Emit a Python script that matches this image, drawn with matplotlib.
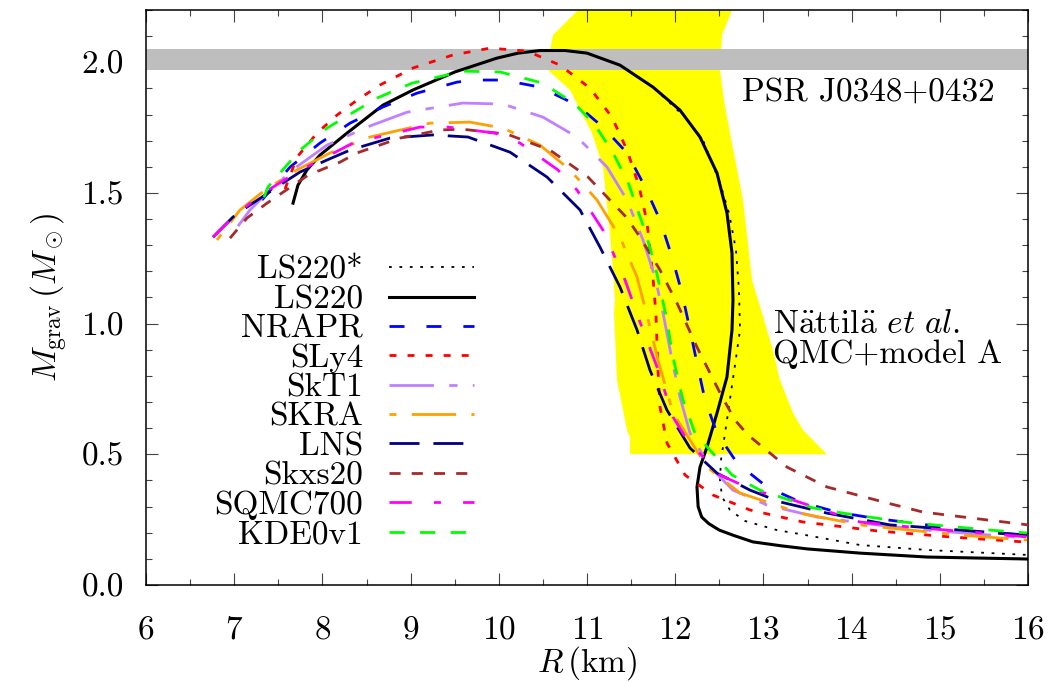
import matplotlib
matplotlib.use("Agg")
import matplotlib.pyplot as plt
from matplotlib.ticker import MultipleLocator

plt.rcParams['font.family'] = ['cmr10', 'DejaVu Serif']
plt.rcParams['mathtext.fontset'] = 'cm'
plt.rcParams['axes.formatter.use_mathtext'] = True
plt.rcParams['axes.unicode_minus'] = False
plt.rcParams['lines.scale_dashes'] = False

# ---------------- data ----------------
ls220_r = [7.667, 7.723, 7.825, 7.973, 8.279, 8.687, 9.027, 9.503, 9.980, 10.22, 10.467, 10.75, 11.0,
           11.374, 11.748, 12.054, 12.281, 12.474, 12.587, 12.644, 12.655, 12.644, 12.587, 12.474, 12.361,
           12.281, 12.247, 12.26, 12.30, 12.38, 12.50, 12.66, 12.88, 13.2, 13.5, 14.095, 14.855, 15.99]
ls220_m = [1.461, 1.530, 1.588, 1.645, 1.729, 1.836, 1.894, 1.963, 2.016, 2.035, 2.045, 2.045, 2.035,
           1.989, 1.905, 1.817, 1.714, 1.576, 1.423, 1.270, 1.090, 0.976, 0.796, 0.658, 0.528,
           0.451, 0.375, 0.300, 0.260, 0.235, 0.210, 0.190, 0.165, 0.150, 0.138, 0.122, 0.107, 0.0995]

ls220s_r = [7.667, 7.723, 7.825, 7.973, 8.279, 8.687, 9.027, 9.503, 9.980, 10.22, 10.467, 10.75, 11.0,
            11.374, 11.748, 12.111, 12.315, 12.508, 12.610, 12.689, 12.723, 12.735, 12.678, 12.587, 12.519,
            12.508, 12.531, 12.621, 12.791, 13.154, 13.415, 14.095, 14.855, 16.0]
ls220s_m = [1.461, 1.530, 1.588, 1.645, 1.729, 1.836, 1.894, 1.963, 2.016, 2.035, 2.045, 2.045, 2.035,
            1.989, 1.905, 1.790, 1.702, 1.538, 1.423, 1.282, 1.129, 0.976, 0.842, 0.631, 0.478,
            0.402, 0.337, 0.287, 0.245, 0.210, 0.195, 0.153, 0.134, 0.115]

nrapr_r = [7.315, 7.633, 7.973, 8.313, 8.687, 9.073, 9.526, 9.707, 10.048, 10.467, 10.887, 11.181, 11.454,
           11.658, 11.828, 11.964, 12.077, 12.168, 12.247, 12.338, 12.474, 12.701, 13.041, 13.415, 13.834,
           14.243, 14.855, 15.422, 15.989]
nrapr_m = [1.473, 1.599, 1.691, 1.767, 1.829, 1.882, 1.924, 1.932, 1.932, 1.905, 1.836, 1.752, 1.653,
           1.523, 1.396, 1.255, 1.117, 0.976, 0.849, 0.708, 0.581, 0.467, 0.375, 0.318, 0.279,
           0.256, 0.230, 0.203, 0.191]

sly4_r = [7.576, 7.712, 7.939, 8.166, 8.392, 8.653, 9.027, 9.481, 9.900, 10.320, 10.694, 11.034, 11.283,
          11.454, 11.590, 11.680, 11.748, 11.782, 11.805, 11.828, 11.907, 12.111, 12.429, 12.848, 13.449,
          14.288, 15.116, 15.989]
sly4_m = [1.515, 1.637, 1.729, 1.798, 1.855, 1.913, 1.978, 2.028, 2.054, 2.043, 1.989, 1.901, 1.790,
          1.664, 1.526, 1.389, 1.178, 1.033, 0.822, 0.681, 0.543, 0.421, 0.344, 0.287, 0.241,
          0.207, 0.184, 0.164]

skt1_r = [7.043, 7.179, 7.406, 7.689, 8.052, 8.506, 8.959, 9.594, 10.048, 10.501, 10.887, 11.227, 11.454,
          11.635, 11.771, 11.862, 11.964, 12.054, 12.168, 12.395, 12.655, 13.041, 13.608, 14.288, 14.855,
          15.989]
skt1_m = [1.373, 1.435, 1.511, 1.595, 1.683, 1.752, 1.809, 1.844, 1.840, 1.790, 1.714, 1.599, 1.473,
          1.320, 1.178, 1.041, 0.861, 0.719, 0.581, 0.451, 0.363, 0.306, 0.260, 0.230, 0.210,
          0.180]

skra_r = [6.805, 7.066, 7.349, 7.712, 8.086, 8.540, 9.220, 9.673, 10.048, 10.467, 10.807, 11.113, 11.374,
          11.567, 11.680, 11.805, 11.975, 12.168, 12.361, 12.735, 13.415, 14.095, 14.549, 15.229, 15.989]
skra_m = [1.320, 1.435, 1.511, 1.588, 1.653, 1.714, 1.767, 1.771, 1.748, 1.683, 1.588, 1.473, 1.331,
          1.178, 1.033, 0.861, 0.658, 0.555, 0.451, 0.352, 0.275, 0.230, 0.214, 0.191, 0.172]

lns_r = [6.760, 6.986, 7.145, 7.553, 7.746, 8.052, 8.313, 8.766, 9.254, 9.651, 10.127, 10.546, 10.921,
         11.147, 11.374, 11.567, 11.714, 11.907, 12.168, 12.474, 12.848, 13.188, 13.721, 14.435, 14.923,
         15.989]
lns_m = [1.331, 1.408, 1.446, 1.538, 1.580, 1.626, 1.664, 1.710, 1.722, 1.714, 1.656, 1.561, 1.435,
         1.293, 1.140, 0.976, 0.822, 0.669, 0.524, 0.428, 0.363, 0.318, 0.275, 0.230, 0.218,
         0.191]

skxs20_r = [6.952, 7.145, 7.372, 7.837, 8.200, 8.392, 8.880, 9.333, 9.583, 10.093, 10.580, 11.011, 11.454,
            11.601, 11.828, 12.020, 12.247, 12.508, 12.678, 12.825, 13.268, 13.721, 14.401, 14.810, 15.535,
            16.0]
skxs20_m = [1.327, 1.404, 1.461, 1.568, 1.618, 1.653, 1.710, 1.741, 1.744, 1.725, 1.664, 1.561, 1.404,
            1.331, 1.205, 1.079, 0.910, 0.735, 0.631, 0.574, 0.451, 0.375, 0.314, 0.279, 0.249,
            0.230]

sqmc_r = [6.760, 6.896, 7.259, 7.712, 8.347, 9.107, 9.424, 9.957, 10.240, 10.671, 10.887, 11.181, 11.431,
          11.601, 11.794, 11.975, 12.134, 12.508, 12.882, 13.336, 14.095, 14.662, 15.989]
sqmc_m = [1.331, 1.377, 1.484, 1.580, 1.691, 1.752, 1.752, 1.729, 1.691, 1.588, 1.511, 1.358, 1.167,
          1.006, 0.834, 0.643, 0.555, 0.421, 0.363, 0.325, 0.241, 0.222, 0.184]

kde_r = [7.338, 7.383, 7.746, 8.052, 8.619, 9.016, 9.594, 10.014, 10.501, 10.864, 11.091, 11.295, 11.465,
         11.658, 11.771, 11.907, 11.964, 12.088, 12.224, 12.644, 12.961, 13.562, 13.902, 14.583, 15.569,
         15.989]
kde_m = [1.484, 1.523, 1.664, 1.748, 1.863, 1.920, 1.966, 1.963, 1.920, 1.840, 1.760, 1.653, 1.542,
         1.354, 1.224, 1.014, 0.888, 0.708, 0.581, 0.421, 0.363, 0.295, 0.275, 0.241, 0.210,
         0.199]

# Naettilae et al. constraint region (boundary)
band_r = [10.898, 10.615, 10.558, 10.558, 10.807, 11.057, 11.181, 11.261, 11.317, 11.306, 11.340, 11.454,
          11.488, 11.488, 13.721, 13.449, 13.336, 13.188, 13.098, 12.984, 12.871, 12.769, 12.621, 12.553,
          12.508, 12.531, 12.644]
band_m = [2.2, 2.104, 2.008, 1.970, 1.894, 1.729, 1.599, 1.347, 1.090, 1.041, 0.784, 0.593,
          0.566, 0.501, 0.5, 0.593, 0.658, 0.784, 0.910, 1.041, 1.167, 1.473, 1.729, 1.855,
          1.970, 2.104, 2.2]

psr_low, psr_high = 1.97, 2.05

labels = ["LS220*", "LS220", "NRAPR", "SLy4", "SkT1", "SKRA", "LNS", "Skxs20", "SQMC700", "KDE0v1"]

# ---------------- figure ----------------
fig = plt.figure(figsize=(10.5, 6.83), dpi=100)
ax = fig.add_axes([146/1050, 98/683, 882/1050, 575/683])

ax.fill(band_r, band_m, color='#ffff00', lw=0, zorder=1)
ax.axhspan(psr_low, psr_high, color='#bebebe', lw=0, zorder=2)

series = [
    (ls220s_r, ls220s_m, dict(color='black', lw=1.3, dashes=(2.0, 5.5))),
    (ls220_r, ls220_m, dict(color='black', lw=2.2)),
    (nrapr_r, nrapr_m, dict(color='#0000ff', lw=2.0, dashes=(10.8, 15.8))),
    (sly4_r, sly4_m, dict(color='#ff0000', lw=2.0, dashes=(5.0, 8.0))),
    (skt1_r, skt1_m, dict(color='#c080ff', lw=2.0, dashes=(32, 11, 6, 11))),
    (skra_r, skra_m, dict(color='#ffa000', lw=2.0, dashes=(5, 11, 32, 11))),
    (lns_r, lns_m, dict(color='#000080', lw=2.0, dashes=(21.6, 10))),
    (skxs20_r, skxs20_m, dict(color='#a52a2a', lw=2.0, dashes=(8, 8))),
    (sqmc_r, sqmc_m, dict(color='#ff00ff', lw=2.0, dashes=(16, 16, 5, 16))),
    (kde_r, kde_m, dict(color='#00ff00', lw=2.0, dashes=(11, 11))),
]
for (r, m, kw), lab in zip(series, labels):
    ax.plot(r, m, label=lab, zorder=3, **kw)

ax.set_xlim(6, 16)
ax.set_ylim(0, 2.2)
ax.xaxis.set_major_locator(MultipleLocator(1))
ax.xaxis.set_minor_locator(MultipleLocator(0.5))
ax.yaxis.set_major_locator(MultipleLocator(0.5))
ax.yaxis.set_minor_locator(MultipleLocator(0.1))
ax.yaxis.set_major_formatter(plt.FuncFormatter(lambda v, p: f"{v:.1f}"))
ax.tick_params(which='both', direction='in', top=True, right=True, labelsize=24, width=0.8, color='#444444')
ax.tick_params(which='major', length=8.6)
ax.tick_params(axis='x', which='major', pad=22)
ax.tick_params(axis='y', which='major', pad=16)
ax.tick_params(which='minor', length=4.3)
for s in ax.spines.values():
    s.set_linewidth(1.1)

ax.set_xlabel(r"$R\,(\mathrm{km})$", fontsize=24, labelpad=0)
ax.set_ylabel(r"$M_{\rm grav}\,(M_\odot)$", fontsize=24, labelpad=8)

ax.text(12.757, 1.855, "PSR J0348+0432", fontsize=24, ha='left', va='baseline', zorder=4)
ax.text(13.109, 0.964, r"N$\ddot{\rm a}$ttil$\ddot{\rm a}$ $et\ al.$", fontsize=24, ha='left', va='baseline', zorder=4)
ax.text(13.109, 0.849, "QMC+model A", fontsize=24, ha='left', va='baseline', zorder=4)

leg = ax.legend(loc='upper right', bbox_to_anchor=(0.372, 0.573), frameon=False, fontsize=24,
                markerfirst=False, handlelength=2.55, handletextpad=0.78, labelspacing=0.0,
                borderpad=0, borderaxespad=0)

fig.savefig("out.png", dpi=100)
